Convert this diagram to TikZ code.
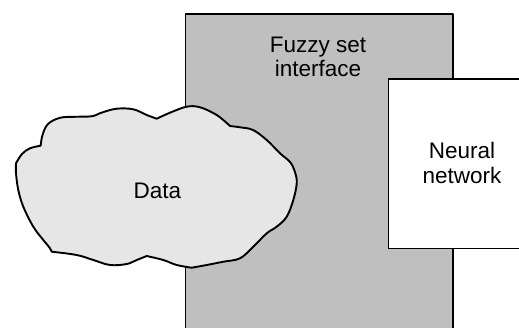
\documentclass[tikz,border=0pt]{standalone}
\usepackage{fontspec}
\setmainfont{Liberation Sans}
\definecolor{panelgray}{RGB}{191,191,191}
\definecolor{cloudgray}{RGB}{230,230,230}
\begin{document}
\begin{tikzpicture}[x=1pt,y=-1pt,
  label/.style={font=\fontsize{22.5}{24.5}\selectfont, align=center, inner sep=0pt, text=black},
  edge/.style={draw=black, line width=1.9pt, line join=round}]
\useasboundingbox (0,0) rectangle (519,327);
\clip (0,0) rectangle (519,327);

% interface panel (open at the bottom)
\fill[panelgray] (185.5,13.7) rectangle (453,340);
\draw[edge] (185.5,340) -- (185.5,13.7) -- (453,13.7) -- (453,340);

% data cloud
\draw[edge, fill=cloudgray]
  plot[smooth, tension=0.6] coordinates {(16,163.3) (22,154) (30,148.3) (40.7,145.7)}
  -- plot[smooth, tension=0.6] coordinates {(40.7,145.7) (42.5,135) (48,124) (60,117.8) (75,116.8) (92,116.2) (102,112.5) (116.7,108.7) (133.3,109.3) (146.7,115) (156.7,118.7)}
  -- plot[smooth, tension=0.6] coordinates {(156.7,118.7) (170,112.7) (186.7,106.7) (200,107.3) (216.7,115) (230,126)}
  -- plot[smooth, tension=0.6] coordinates {(230,126) (240,127.3) (253,130) (266.7,140) (280,153.3) (290,162) (295,172) (296.7,183.3) (293.3,200) (286.7,216.7) (276.7,226.7) (266.7,233.3) (253.3,246.7) (240,258.3) (223.3,261.7) (206.7,265) (191.7,267.7)}
  -- plot[smooth, tension=0.6] coordinates {(191.7,267.7) (176.7,265) (163.3,260) (146.7,256)}
  -- plot[smooth, tension=0.6] coordinates {(146.7,256) (136.7,260) (126.7,264) (110,265) (93.3,260) (76.7,255) (51.7,251.7)}
  -- plot[smooth, tension=0.6] coordinates {(51.7,251.7) (49.3,247.3) (43.3,240) (33.3,226.7) (23.3,206.7) (18.3,190) (16,173.3) (16,163.3)}
  -- cycle;

% neural network box (open at the right)
\fill[white] (388.5,79) rectangle (530,248.7);
\draw[black, line width=1.3pt] (530,79) -- (388.5,79) -- (388.5,248.7) -- (530,248.7);

% labels (base anchor sits on the last line)
\node[label, anchor=base] (fuzzy) at (318,76.7) {Fuzzy set\\interface};
\node[label, anchor=base] (data) at (157.3,198.3) {Data};
\node[label, anchor=base] (neural) at (462,183.3) {Neural\\network};
\end{tikzpicture}
\end{document}
